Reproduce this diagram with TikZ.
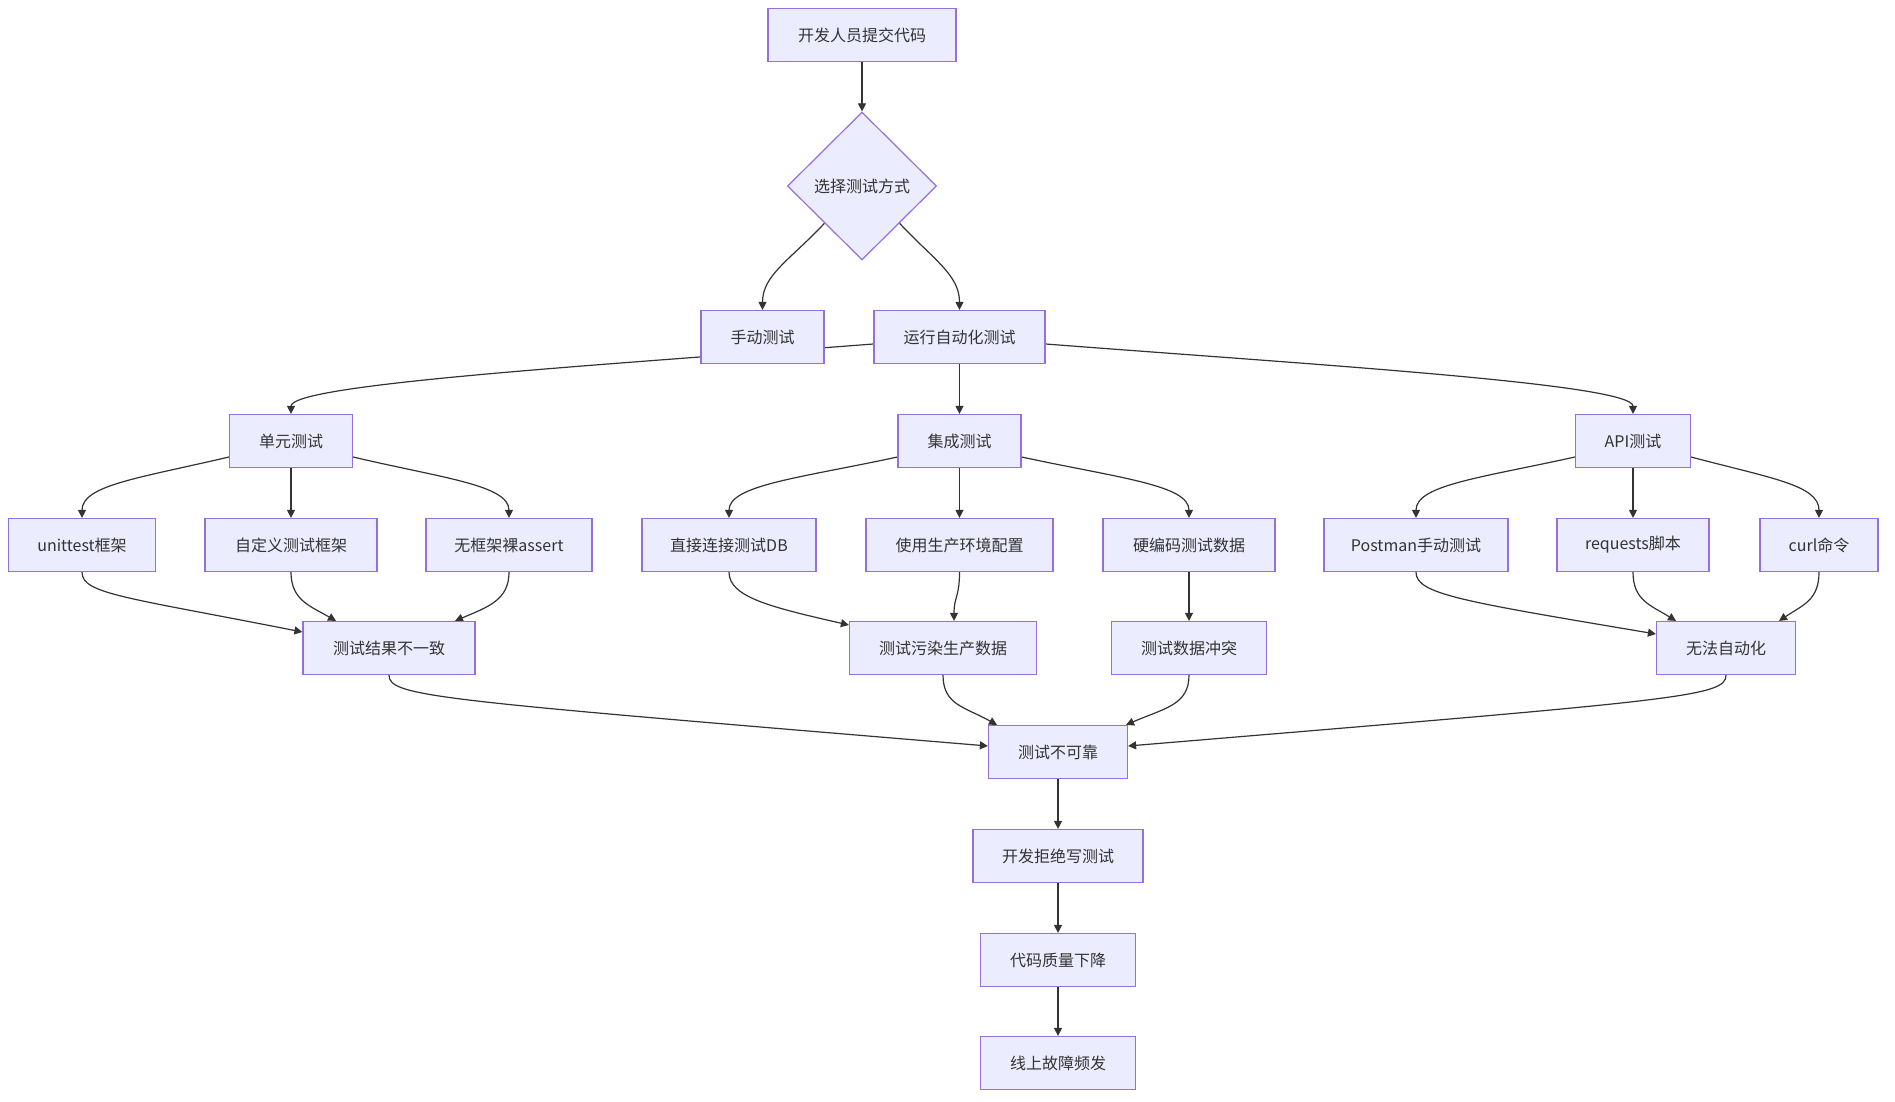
\documentclass[tikz,border=0pt]{standalone}
\usepackage{fontspec}
\setmainfont{Noto Sans CJK SC}
\usetikzlibrary{arrows.meta,shapes.geometric,backgrounds}
\definecolor{mfill}{HTML}{ECECFF}
\definecolor{mline}{HTML}{9370DB}
\definecolor{medge}{HTML}{333333}
\begin{document}
\begin{tikzpicture}[x=1pt,y=-1pt,
  box/.style={rectangle, draw=mline, fill=mfill, line width=1.2pt, minimum height=53pt, inner sep=0pt, text=medge, font=\fontsize{16}{19}\selectfont},
  dia/.style={diamond, draw=mline, fill=mfill, line width=1.2pt, minimum width=149pt, minimum height=148pt, inner sep=0pt, text=medge, font=\fontsize{16}{19}\selectfont},
  arr/.style={draw=medge, line width=1.2pt, -{Triangle[length=8pt,width=8pt]}}]
\useasboundingbox (0,0) rectangle (1895,1102);

\node[box, minimum width=188pt] (dev) at (862,35) {开发人员提交代码};
\node[dia] (dec) at (862,186) {选择测试方式};
\node[box, minimum width=123pt] (manual) at (762.5,337) {手动测试};
\node[box, minimum width=171pt] (auto) at (959.5,337) {运行自动化测试};
\node[box, minimum width=123pt] (unit) at (291,441) {单元测试};
\node[box, minimum width=123pt] (integ) at (959.5,441) {集成测试};
\node[box, minimum width=115pt] (api) at (1633,441) {API测试};

\node[box, minimum width=147pt] (ut) at (82,545) {unittest框架};
\node[box, minimum width=172pt] (custom) at (291,545) {自定义测试框架};
\node[box, minimum width=166pt] (bare) at (509,545) {无框架裸assert};
\node[box, minimum width=174pt] (db) at (729,545) {直接连接测试DB};
\node[box, minimum width=187pt] (prodcfg) at (959.5,545) {使用生产环境配置};
\node[box, minimum width=172pt] (hard) at (1189,545) {硬编码测试数据};
\node[box, minimum width=184pt] (postman) at (1416,545) {Postman手动测试};
\node[box, minimum width=152pt] (req) at (1633,545) {requests脚本};
\node[box, minimum width=118pt] (curl) at (1819,545) {curl命令};

\node[box, minimum width=172pt] (res) at (389,648) {测试结果不一致};
\node[box, minimum width=187pt] (pollute) at (943,648) {测试污染生产数据};
\node[box, minimum width=155pt] (conflict) at (1189,648) {测试数据冲突};
\node[box, minimum width=139pt] (noauto) at (1726,648) {无法自动化};

\node[box, minimum width=139pt] (unrel) at (1058,752) {测试不可靠};
\node[box, minimum width=170pt] (refuse) at (1058,856) {开发拒绝写测试};
\node[box, minimum width=155pt] (quality) at (1058,960) {代码质量下降};
\node[box, minimum width=155pt] (incident) at (1058,1063) {线上故障频发};

\begin{scope}[on background layer]
\fill[white] (0,0) rectangle (1895,1102);
\draw[arr] (dev.south) -- (dec.north);
\draw[arr] (dec.south west) .. controls (790,260) and (762.5,275) .. (manual.north);
\draw[arr] (dec.south east) .. controls (934,260) and (959.5,275) .. (auto.north);

\draw[arr] ([yshift=-7pt]auto.west) .. controls (600,365) and (291,384) .. (unit.north);
\draw[arr] (auto.south) -- (integ.north);
\draw[arr] ([yshift=-7pt]auto.east) .. controls (1319,365) and (1633,384) .. (api.north);

\draw[arr] ([yshift=-16pt]unit.west) .. controls (140,478) and (82,485) .. (ut.north);
\draw[arr] (unit.south) -- (custom.north);
\draw[arr] ([yshift=-16pt]unit.east) .. controls (442,478) and (509,485) .. (bare.north);
\draw[arr] ([yshift=-16pt]integ.west) .. controls (800,478) and (729,485) .. (db.north);
\draw[arr] (integ.south) -- (prodcfg.north);
\draw[arr] ([yshift=-16pt]integ.east) .. controls (1119,478) and (1189,485) .. (hard.north);
\draw[arr] ([yshift=-16pt]api.west) .. controls (1480,478) and (1416,485) .. (postman.north);
\draw[arr] (api.south) -- (req.north);
\draw[arr] ([yshift=-16pt]api.east) .. controls (1770,478) and (1819,485) .. (curl.north);

\draw[arr] (ut.south) .. controls (82,594) and (125,597) .. ([yshift=16pt]res.west);
\draw[arr] (custom.south) .. controls (291,600) and (310,606) .. ([xshift=-53pt]res.north);
\draw[arr] (bare.south) .. controls (509,600) and (488,607) .. ([xshift=66pt]res.north);
\draw[arr] (db.south) .. controls (729,597) and (770,607) .. ([yshift=23pt]pollute.west);
\draw[arr] (prodcfg.south) .. controls (959.5,597) and (954,597) .. ([xshift=11pt]pollute.north);
\draw[arr] (hard.south) -- (conflict.north);
\draw[arr] (postman.south) .. controls (1416,594) and (1460,601) .. ([yshift=14pt]noauto.west);
\draw[arr] (req.south) .. controls (1633,600) and (1650,605) .. ([xshift=-50pt]noauto.north);
\draw[arr] (curl.south) .. controls (1819,600) and (1803,605) .. ([xshift=53pt]noauto.north);

\draw[arr] (res.south) .. controls (389,697) and (437,700) .. ([yshift=6pt]unrel.west);
\draw[arr] (pollute.south) .. controls (943,705) and (965,707) .. ([xshift=-61pt]unrel.north);
\draw[arr] (conflict.south) .. controls (1189,705) and (1165,708) .. ([xshift=68pt]unrel.north);
\draw[arr] (noauto.south) .. controls (1726,697) and (1680,700) .. ([yshift=6pt]unrel.east);

\draw[arr] (unrel.south) -- (refuse.north);
\draw[arr] (refuse.south) -- (quality.north);
\draw[arr] (quality.south) -- (incident.north);
\end{scope}
\end{tikzpicture}
\end{document}
